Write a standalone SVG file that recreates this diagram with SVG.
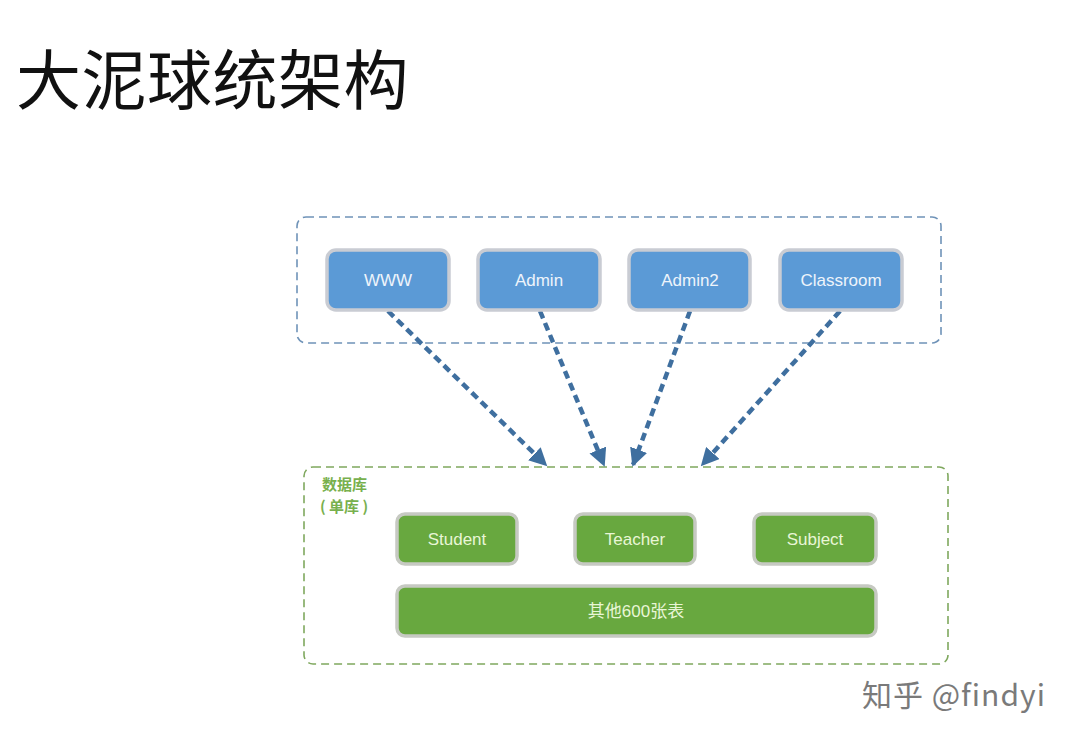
<svg xmlns="http://www.w3.org/2000/svg" width="1080" height="745" viewBox="0 0 1080 745">
<defs>
<style>
.title{font-family:"Noto Sans CJK SC","Liberation Sans",sans-serif;font-size:65px;letter-spacing:0.5px;fill:#111;}
.cont-blue{fill:none;stroke:#6f93b8;stroke-width:1.6;stroke-dasharray:8 5;}
.cont-green{fill:none;stroke:#7fa85e;stroke-width:1.6;stroke-dasharray:8 5;}
.bnode{fill:#5b9ad6;stroke:#c9ccd3;stroke-width:3.5;}
.gnode{fill:#68a83f;stroke:#c6c9c2;stroke-width:3.5;}
.btxt{font-family:"Liberation Sans","Noto Sans CJK SC",sans-serif;font-size:17px;fill:#eef4fb;text-anchor:middle;}
.gtxt{font-family:"Liberation Sans","Noto Sans CJK SC",sans-serif;font-size:17px;fill:#e8f6d6;text-anchor:middle;}
.glabel{font-family:"Noto Sans CJK SC",sans-serif;font-size:15px;font-weight:bold;fill:#78b04e;}
.conn{fill:none;stroke:#3f6f9f;stroke-width:4.5;stroke-dasharray:8 5;}
.wm{font-family:"Noto Sans CJK SC","Liberation Sans",sans-serif;font-size:30px;letter-spacing:1px;fill:#7a7a7a;}
</style>
<marker id="arr" viewBox="0 0 10 10" refX="9" refY="5" markerWidth="4" markerHeight="4" orient="auto" markerUnits="strokeWidth">
<path d="M0,0 L10,5 L0,10 z" fill="#3f6f9f"/>
</marker>
</defs>
<rect width="1080" height="745" fill="#ffffff"/>
<text class="title" x="16" y="104">大泥球统架构</text>

<g id="app-layer">
<rect class="cont-blue" x="297" y="217" width="644" height="126" rx="9"/>
</g>
<g id="db-layer">
<rect class="cont-green" x="304" y="467" width="644" height="197" rx="9"/>
<text class="glabel" x="322" y="490">数据库</text>
<text class="glabel" x="320" y="512">( 单库 )</text>
</g>

<g id="connectors">
<line class="conn" x1="388" y1="311" x2="546" y2="465" marker-end="url(#arr)"/>
<line class="conn" x1="540" y1="311" x2="604" y2="465" marker-end="url(#arr)"/>
<line class="conn" x1="690" y1="311" x2="633" y2="465" marker-end="url(#arr)"/>
<line class="conn" x1="840" y1="311" x2="702" y2="465" marker-end="url(#arr)"/>
</g>

<g id="node-www"><rect class="bnode" x="327" y="250" width="122" height="60" rx="9"/><text class="btxt" x="388" y="286">WWW</text></g>
<g id="node-admin"><rect class="bnode" x="478" y="250" width="122" height="60" rx="9"/><text class="btxt" x="539" y="286">Admin</text></g>
<g id="node-admin2"><rect class="bnode" x="629" y="250" width="121" height="60" rx="9"/><text class="btxt" x="690" y="286">Admin2</text></g>
<g id="node-classroom"><rect class="bnode" x="780" y="250" width="122" height="60" rx="9"/><text class="btxt" x="841" y="286">Classroom</text></g>

<g id="node-student"><rect class="gnode" x="397" y="514" width="120" height="50" rx="8"/><text class="gtxt" x="457" y="545">Student</text></g>
<g id="node-teacher"><rect class="gnode" x="575" y="514" width="120" height="50" rx="8"/><text class="gtxt" x="635" y="545">Teacher</text></g>
<g id="node-subject"><rect class="gnode" x="754" y="514" width="122" height="50" rx="8"/><text class="gtxt" x="815" y="545">Subject</text></g>
<g id="node-others"><rect class="gnode" x="397" y="586" width="479" height="50" rx="8"/><text class="gtxt" x="636" y="617">其他600张表</text></g>

<text class="wm" x="862" y="706">知乎 @findyi</text>
</svg>
